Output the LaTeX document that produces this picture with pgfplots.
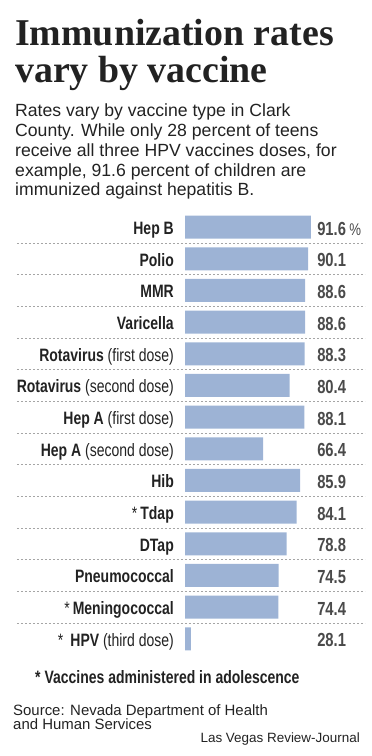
\documentclass[border=0pt]{standalone}
\usepackage{pgfplots}
\pgfplotsset{compat=1.18}
\usepackage{pgfplotstable}
\usepackage{fontspec}
\setmainfont{Liberation Sans}
\newfontfamily\titlefont{Liberation Serif}
\newfontfamily\condfont[FakeStretch=0.78]{Liberation Sans}
\definecolor{barblue}{HTML}{9DB3D5}
\definecolor{txt}{HTML}{222222}
\definecolor{valc}{HTML}{4A4A4A}
\definecolor{sepc}{HTML}{A5A5A5}

\pgfplotstableread{
idx val lab
0  91.6 91.6
1  90.1 90.1
2  88.6 88.6
3  88.6 88.6
4  88.3 88.3
5  80.4 80.4
6  88.1 88.1
7  66.4 66.4
8  85.9 85.9
9  84.1 84.1
10 78.8 78.8
11 74.5 74.5
12 74.4 74.4
13 28.1 28.1
}\vaccines

\begin{document}
\begin{tikzpicture}
\useasboundingbox (0,0) rectangle (372bp,-756bp);
% title
\node[anchor=base west, inner sep=0, text=txt] at (15bp,-45bp) {\fontsize{38}{38}\titlefont\bfseries Immunization rates};
\node[anchor=base west, inner sep=0, text=txt] at (15bp,-82bp) {\fontsize{38}{38}\titlefont\bfseries vary by vaccine};
% subtitle
\foreach \t [count=\i from 0] in {Rates vary by vaccine type in Clark,County. While only 28 percent of teens,{receive all three HPV vaccines doses, for},{example, 91.6 percent of children are},immunized against hepatitis B.}{
  \node[anchor=base west, inner sep=0, text=txt] at (15bp,{-116.7bp-19.8bp*\i}) {\fontsize{17.7}{20}\selectfont \t};
}
\begin{axis}[
  at={(185bp,-211.3bp)}, anchor=north west,
  scale only axis, width=141.75bp, height=443.3bp,
  xmin=25, xmax=100, ymin=-0.5, ymax=13.5, y dir=reverse,
  axis line style={draw=none}, tick style={draw=none},
  xtick=\empty,
  ytick={0,...,13},
  yticklabels={{\textbf{Hep B}},{\textbf{Polio}},{\textbf{MMR}},{\textbf{Varicella}},{\textbf{Rotavirus} (first dose)},{\textbf{Rotavirus} (second dose)},{\textbf{Hep A} (first dose)},{\textbf{Hep A} (second dose)},{\textbf{Hib}},{*\,\textbf{Tdap}},{\textbf{DTap}},{\textbf{Pneumococcal}},{*\,\textbf{Meningococcal}},{*\hspace{7bp}\textbf{HPV} (third dose)}},
  yticklabel style={font=\fontsize{18}{20}\condfont, text=txt, anchor=base east, inner sep=0pt, xshift=-11bp, yshift=-7.5bp},
  clip=false,
]
\pgfplotsinvokeforeach{0.5,1.5,2.5,3.5,4.5,5.5,6.5,7.5,8.5,9.5,10.5,11.5,12.5}{
  \draw[sepc, line width=0.8bp, dash pattern=on 2bp off 2bp] (axis cs:25,#1) ++(-168bp,0bp) -- ++(348bp,0bp);
}
\addplot[xbar, bar width=23bp, bar shift=0pt, fill=barblue, draw=none] table[x=val, y=idx] {\vaccines};
\addplot[only marks, mark=none, point meta=explicit symbolic, nodes near coords,
  every node near coord/.append style={anchor=base east, inner sep=0pt, yshift=-8bp, font=\fontsize{19}{20}\condfont\bfseries, text=valc}]
  table[x expr=110.3, y=idx, meta=lab] {\vaccines};
\node[anchor=base west, inner sep=0pt, text=valc, yshift=-8bp, xshift=3bp] at (axis cs:110.3,0) {\fontsize{17}{20}\condfont\%};
\end{axis}
% footnote
\node[anchor=base west, inner sep=0, text=txt] at (35bp,-683bp) {\fontsize{18}{20}\condfont\bfseries * Vaccines administered in adolescence};
\node[anchor=base west, inner sep=0, text=txt] at (13bp,-715bp) {\fontsize{15}{16}\selectfont Source: Nevada Department of Health};
\node[anchor=base west, inner sep=0, text=txt] at (13bp,-729bp) {\fontsize{15}{16}\selectfont and Human Services};
\node[anchor=base east, inner sep=0, text=txt] at (360bp,-742.7bp) {\fontsize{13.5}{15}\selectfont Las Vegas Review-Journal};
\end{tikzpicture}
\end{document}
